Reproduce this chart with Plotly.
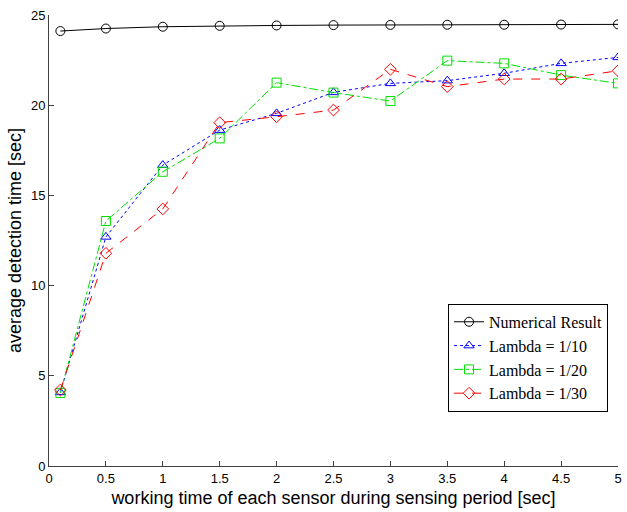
import plotly.graph_objects as go

x = [0.1, 0.5, 1, 1.5, 2, 2.5, 3, 3.5, 4, 4.5, 5]
numerical = [24.11, 24.25, 24.35, 24.40, 24.42, 24.44, 24.45, 24.46, 24.46, 24.47, 24.48]
lam10 = [4.08, 12.70, 16.68, 18.62, 19.55, 20.71, 21.21, 21.36, 21.77, 22.32, 22.65]
lam20 = [4.05, 13.58, 16.31, 18.16, 21.25, 20.70, 20.23, 22.47, 22.32, 21.67, 21.21]
lam30 = [4.21, 11.79, 14.25, 19.03, 19.36, 19.73, 21.99, 21.03, 21.45, 21.45, 21.91]
names = ["Numerical Result", "Lambda = 1/10", "Lambda = 1/20", "Lambda = 1/30"]
xticks = [0, 0.5, 1, 1.5, 2, 2.5, 3, 3.5, 4, 4.5, 5]
yticks = [0, 5, 10, 15, 20, 25]

series = [
    (numerical, "black", "solid", "circle-open"),
    (lam10, "blue", "dot", "triangle-up-open"),
    (lam20, "#00e000", "dashdot", "square-open"),
    (lam30, "red", "dash", "diamond-open"),
]

fig = go.Figure()
for name, (ys, col, dash, sym) in zip(names, series):
    fig.add_trace(go.Scatter(
        x=x, y=ys, name=name, mode="lines+markers",
        line=dict(color=col, width=1, dash=dash),
        marker=dict(symbol=sym, size=9, color=col, line=dict(width=1, color=col)),
    ))

axis_common = dict(
    showgrid=False, zeroline=False, showline=True, linecolor="#404040", linewidth=1,
    ticks="inside", ticklen=5, tickcolor="#404040",
    tickfont=dict(family="Liberation Sans, Arial", size=13, color="black"),
)
fig.update_layout(
    width=627, height=512,
    margin=dict(l=49, r=5, t=15, b=46),
    paper_bgcolor="white", plot_bgcolor="white",
    xaxis=dict(range=[0, 5], tickvals=xticks,
               ticktext=[f"{v:g}" for v in xticks],
               title=dict(text="working time of each sensor during sensing period [sec]",
                          font=dict(family="Liberation Sans, Arial", size=18, color="black"),
                          standoff=6),
               **axis_common),
    yaxis=dict(range=[0, 25], tickvals=yticks,
               title=dict(text="average detection time [sec]",
                          font=dict(family="Liberation Sans, Arial", size=18, color="black"),
                          standoff=4),
               **axis_common),
    legend=dict(x=0.9825, y=0.12, xanchor="right", yanchor="bottom",
                bgcolor="white", bordercolor="black", borderwidth=1,
                font=dict(family="Liberation Serif, Times New Roman", size=16, color="black"),
                tracegroupgap=0, itemwidth=30),
    showlegend=True,
)
fig.write_html("out.html")
